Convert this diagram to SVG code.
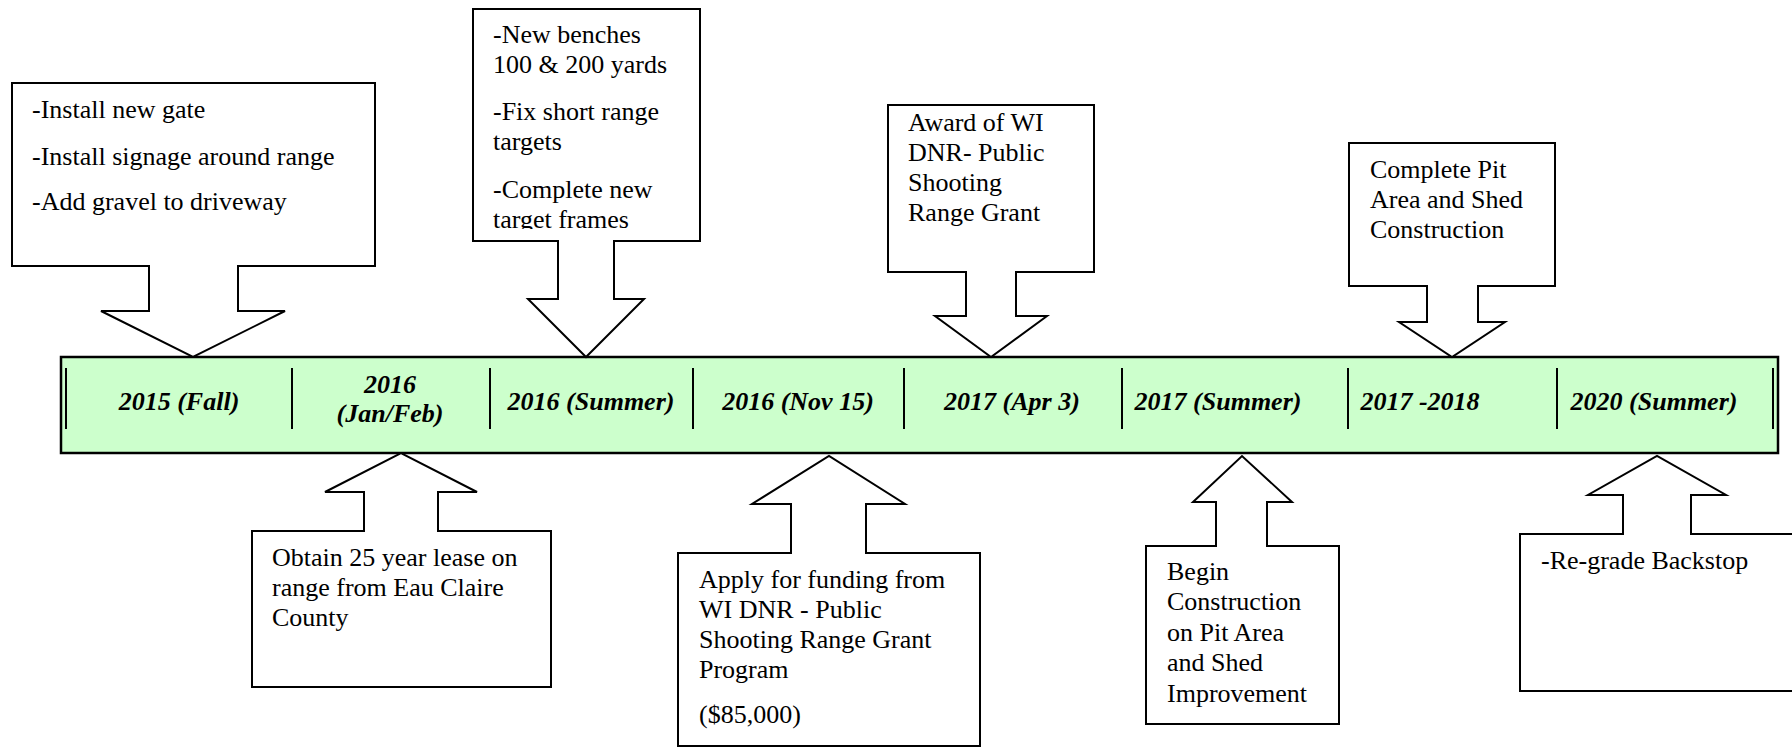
<svg xmlns="http://www.w3.org/2000/svg" width="1792" height="747" viewBox="0 0 1792 747">
<style>
.co{fill:#ffffff;stroke:#000000;stroke-width:2;stroke-linejoin:miter}
.t{font-family:"Liberation Serif","Times New Roman",serif;font-size:26px;fill:#000000}
.d{font-family:"Liberation Serif","Times New Roman",serif;font-size:26px;font-weight:bold;font-style:italic;fill:#000000;text-anchor:middle}
.div{stroke:#000000;stroke-width:2}
</style>
<defs>
<clipPath id="clip2"><rect x="470" y="0" width="240" height="229"/></clipPath>
</defs>
<rect width="1792" height="747" fill="#ffffff"/>

<g id="timeline">
<rect x="61" y="357" width="1717" height="96" fill="#CCFFCC" stroke="#000000" stroke-width="2.5"/>
<line class="div" x1="66" y1="368" x2="66" y2="429"/>
<line class="div" x1="292" y1="368" x2="292" y2="429"/>
<line class="div" x1="490" y1="368" x2="490" y2="429"/>
<line class="div" x1="693" y1="368" x2="693" y2="429"/>
<line class="div" x1="904" y1="368" x2="904" y2="429"/>
<line class="div" x1="1122" y1="368" x2="1122" y2="429"/>
<line class="div" x1="1348" y1="368" x2="1348" y2="429"/>
<line class="div" x1="1557" y1="368" x2="1557" y2="429"/>
<line class="div" x1="1773" y1="368" x2="1773" y2="429"/>
<text class="d" x="179" y="410">2015 (Fall)</text>
<text class="d" x="390" y="393">2016</text>
<text class="d" x="390" y="422">(Jan/Feb)</text>
<text class="d" x="591" y="410">2016 (Summer)</text>
<text class="d" x="798" y="410">2016 (Nov 15)</text>
<text class="d" x="1012" y="410">2017 (Apr 3)</text>
<text class="d" x="1218" y="410">2017 (Summer)</text>
<text class="d" x="1420" y="410">2017 -2018</text>
<text class="d" x="1654" y="410">2020 (Summer)</text>
</g>

<g id="connectors">
</g>

<g id="callout-2015-fall">
<path class="co" d="M12,83 H375 V266 H238 V311 H285 L193,357 L101,311 H149 V266 H12 Z"/>
<text class="t" x="32" y="118">-Install new gate</text>
<text class="t" x="32" y="165">-Install signage around range</text>
<text class="t" x="32" y="210">-Add gravel to driveway</text>
</g>

<g id="callout-2016-summer">
<path class="co" d="M473,9 H700 V241 H614 V299 H644 L586,357 L528,299 H558 V241 H473 Z"/>
<g clip-path="url(#clip2)">
<text class="t" x="493" y="43">-New benches</text>
<text class="t" x="493" y="73">100 &amp; 200 yards</text>
<text class="t" x="493" y="120">-Fix short range</text>
<text class="t" x="493" y="150">targets</text>
<text class="t" x="493" y="198">-Complete new</text>
<text class="t" x="493" y="228">target frames</text>
</g>
</g>

<g id="callout-2017-apr">
<path class="co" d="M888,105 H1094 V272 H1016 V316 H1047 L991,357 L935,316 H966 V272 H888 Z"/>
<text class="t" x="908" y="131">Award of WI</text>
<text class="t" x="908" y="161">DNR- Public</text>
<text class="t" x="908" y="191">Shooting</text>
<text class="t" x="908" y="221">Range Grant</text>
</g>

<g id="callout-2017-2018">
<path class="co" d="M1349,143 H1555 V286 H1478 V322 H1505 L1452,357 L1399,322 H1427 V286 H1349 Z"/>
<text class="t" x="1370" y="178">Complete Pit</text>
<text class="t" x="1370" y="208">Area and Shed</text>
<text class="t" x="1370" y="238">Construction</text>
</g>

<g id="callout-2016-janfeb">
<path class="co" d="M252,687 H551 V531 H438 V492 H477 L401,453 L325,492 H364 V531 H252 Z"/>
<text class="t" x="272" y="566">Obtain 25 year lease on</text>
<text class="t" x="272" y="596">range from Eau Claire</text>
<text class="t" x="272" y="626">County</text>
</g>

<g id="callout-2016-nov">
<path class="co" d="M678,746 H980 V553 H866 V504 H905 L829,456 L752,504 H791 V553 H678 Z"/>
<text class="t" x="699" y="588">Apply for funding from</text>
<text class="t" x="699" y="618">WI DNR - Public</text>
<text class="t" x="699" y="648">Shooting Range Grant</text>
<text class="t" x="699" y="678">Program</text>
<text class="t" x="699" y="723">($85,000)</text>
</g>

<g id="callout-2017-summer">
<path class="co" d="M1146,724 H1339 V546 H1267 V502 H1292 L1242,456 L1193,502 H1216 V546 H1146 Z"/>
<text class="t" x="1167" y="580">Begin</text>
<text class="t" x="1167" y="610">Construction</text>
<text class="t" x="1167" y="641">on Pit Area</text>
<text class="t" x="1167" y="671">and Shed</text>
<text class="t" x="1167" y="702">Improvement</text>
</g>

<g id="callout-2020-summer">
<path class="co" d="M1520,691 H1800 V534 H1691 V495 H1726 L1657,456 L1588,495 H1623 V534 H1520 Z"/>
<text class="t" x="1541" y="569">-Re-grade Backstop</text>
</g>
</svg>
